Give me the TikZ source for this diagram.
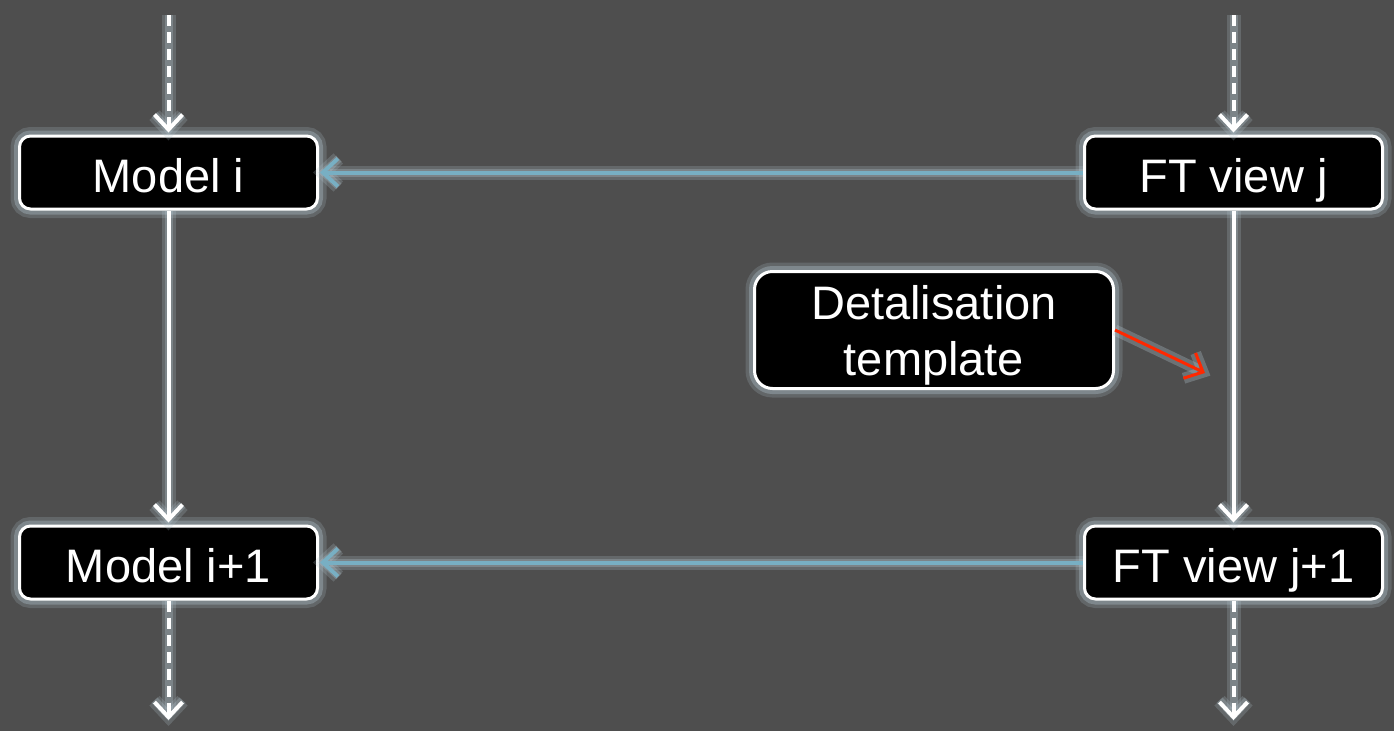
\documentclass[tikz,border=0pt]{standalone}
\usepackage{fontspec}
\setmainfont{Liberation Sans}
\usetikzlibrary{arrows.meta}
\definecolor{bgc}{RGB}{78,78,78}
\definecolor{glowc}{RGB}{180,198,208}
\definecolor{bluec}{RGB}{120,175,195}
\definecolor{redc}{RGB}{255,40,0}
\tikzset{
  boxglow/.style={preaction={draw=glowc, line width=18pt, opacity=.2},
                  preaction={draw=glowc, line width=11pt, opacity=.35}},
  box/.style={boxglow, draw=white, line width=3pt, fill=black, rounded corners=11pt,
    text=white, font=\fontsize{47}{56}\selectfont, minimum width=298pt,
    minimum height=73pt, inner sep=0pt, align=center, text height=39pt, text depth=0pt},
  bigbox/.style={box, minimum width=359pt, minimum height=117pt, rounded corners=18pt,
    text height=, text depth=0pt},
  tipw/.style={-{Straight Barb[length=15pt, width=28pt]}},
  lineglow/.style={preaction={draw=glowc, line width=14pt, opacity=.22, solid, tipw, shorten >=-6pt},
                   preaction={draw=glowc, line width=8pt, opacity=.3, solid, tipw, shorten >=-1pt}},
  wline/.style={lineglow, draw=white, line width=4pt, tipw, shorten >=2pt},
  wdash/.style={wline, dash pattern=on 11pt off 6pt},
  bline/.style={lineglow, draw=bluec, line width=4pt, tipw, shorten >=1pt},
  rline/.style={preaction={draw=glowc, line width=11pt, opacity=.3, tipw, shorten >=-6pt},
                draw=redc, line width=3pt, tipw},
}
\begin{document}
\begin{tikzpicture}[x=1pt, y=-1pt]
  \fill[bgc] (0,0) rectangle (1394,731);
  \useasboundingbox (0,0) rectangle (1394,731);

  \node[box] (mi)  at (168.5,172.5) {Model i};
  \node[box] (fj)  at (1233.5,172.5) {FT view j};
  \node[box] (mi1) at (168.5,562.5) {Model i+1};
  \node[box] (fj1) at (1233.5,562.5) {FT view j+1};
  \node[bigbox] (dt) at (934,330) {Detalisation\\template};

  \coordinate (tl) at (168.5,15);
  \coordinate (tr) at (1233.5,15);
  \coordinate (bl) at (168.5,720);
  \coordinate (br) at (1233.5,720);
  \coordinate (rt) at (1205,373);

  \draw[wdash] (tl) -- (mi.north);
  \draw[wdash] (tr) -- (fj.north);
  \draw[wline] (mi.south) -- (mi1.north);
  \draw[wline] (fj.south) -- (fj1.north);
  \draw[wdash, shorten >=0pt] (mi1.south) -- (bl);
  \draw[wdash, shorten >=0pt] (fj1.south) -- (br);
  \draw[bline] (fj.west) -- (mi.east);
  \draw[bline] (fj1.west) -- (mi1.east);
  \draw[rline] (dt.east) -- (rt);
\end{tikzpicture}
\end{document}
